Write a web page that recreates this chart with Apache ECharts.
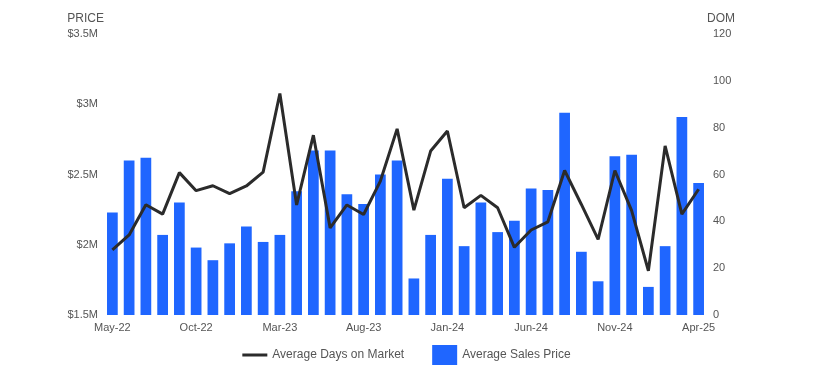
<!DOCTYPE html>
<html>
<head>
<meta charset="utf-8">
<script src="https://cdn.jsdelivr.net/npm/echarts@6/dist/echarts.min.js"></script>
<style>
  html, body { margin: 0; padding: 0; background: #fff; }
  #chart { width: 813px; height: 377px; }
</style>
</head>
<body>
<div id="chart"></div>
<script>
// months May-22 .. Apr-25
const months = [
  "May-22", "Jun-22", "Jul-22", "Aug-22", "Sep-22", "Oct-22", "Nov-22", "Dec-22",
  "Jan-23", "Feb-23", "Mar-23", "Apr-23", "May-23", "Jun-23", "Jul-23", "Aug-23",
  "Sep-23", "Oct-23", "Nov-23", "Dec-23", "Jan-24", "Feb-24", "Mar-24", "Apr-24",
  "May-24", "Jun-24", "Jul-24", "Aug-24", "Sep-24", "Oct-24", "Nov-24", "Dec-24",
  "Jan-25", "Feb-25", "Mar-25", "Apr-25"
];

// average sales price, in $M
const avgPrice = [
  2.23, 2.60, 2.62, 2.07, 2.30, 1.98, 1.89, 2.01, 2.13, 2.02, 2.07, 2.38,
  2.67, 2.67, 2.36, 2.29, 2.50, 2.60, 1.76, 2.07, 2.47, 1.99, 2.30, 2.09,
  2.17, 2.40, 2.39, 2.94, 1.95, 1.74, 2.63, 2.64, 1.70, 1.99, 2.91, 2.44
];

// average days on market
const avgDom = [
  27.8, 34.2, 47.1, 43.1, 60.8, 53.1, 55.2, 51.8, 55.1, 61.0, 94.6, 47.0,
  76.8, 37.2, 47.0, 42.9, 57.2, 79.5, 44.8, 70.0, 78.6, 45.8, 51.1, 45.8,
  28.9, 36.3, 39.8, 61.7, 47.2, 32.3, 61.7, 44.6, 18.9, 72.2, 43.1, 53.7
];

const priceTicks = { min: 1.5, max: 3.5, interval: 0.5 };
const domTicks = { min: 0, max: 120, interval: 20 };

const chart = echarts.init(document.getElementById("chart"));
const labelColor = "#555";

chart.setOption({
  animation: false,
  textStyle: { fontFamily: "Arial, 'Liberation Sans', sans-serif" },
  grid: { left: 104, right: 106, top: 34, bottom: 62 },
  legend: {
    left: "center",
    top: 340,
    itemGap: 28,
    itemWidth: 25,
    itemHeight: 20,
    textStyle: { color: labelColor, fontSize: 12 },
    data: [
      { name: "Average Days on Market", icon: "path://M0,9 L25,9 L25,12 L0,12 Z" },
      { name: "Average Sales Price", icon: "rect" }
    ]
  },
  xAxis: {
    type: "category",
    data: months,
    axisLine: { show: false },
    axisTick: { show: false },
    axisLabel: { interval: 4, color: labelColor, fontSize: 11, margin: 7 }
  },
  yAxis: [
    {
      type: "value",
      name: "PRICE",
      nameGap: 9,
      nameTextStyle: { color: labelColor, fontSize: 12, align: "right" },
      min: priceTicks.min,
      max: priceTicks.max,
      interval: priceTicks.interval,
      axisLine: { show: false },
      axisTick: { show: false },
      splitLine: { show: false },
      axisLabel: {
        color: labelColor,
        fontSize: 11,
        margin: 6,
        formatter: (v) => "$" + v + "M"
      }
    },
    {
      type: "value",
      name: "DOM",
      nameGap: 9,
      nameTextStyle: { color: labelColor, fontSize: 12, align: "left" },
      min: domTicks.min,
      max: domTicks.max,
      interval: domTicks.interval,
      position: "right",
      axisLine: { show: false },
      axisTick: { show: false },
      splitLine: { show: false },
      axisLabel: { color: labelColor, fontSize: 11, margin: 6 }
    }
  ],
  series: [
    {
      name: "Average Days on Market",
      type: "line",
      yAxisIndex: 1,
      data: avgDom,
      symbol: "none",
      z: 3,
      lineStyle: { color: "#2b2b2b", width: 3 },
      itemStyle: { color: "#2b2b2b" }
    },
    {
      name: "Average Sales Price",
      type: "bar",
      yAxisIndex: 0,
      data: avgPrice,
      barWidth: "64%",
      z: 2,
      itemStyle: { color: "#1f66ff" }
    }
  ]
});
</script>
</body>
</html>
